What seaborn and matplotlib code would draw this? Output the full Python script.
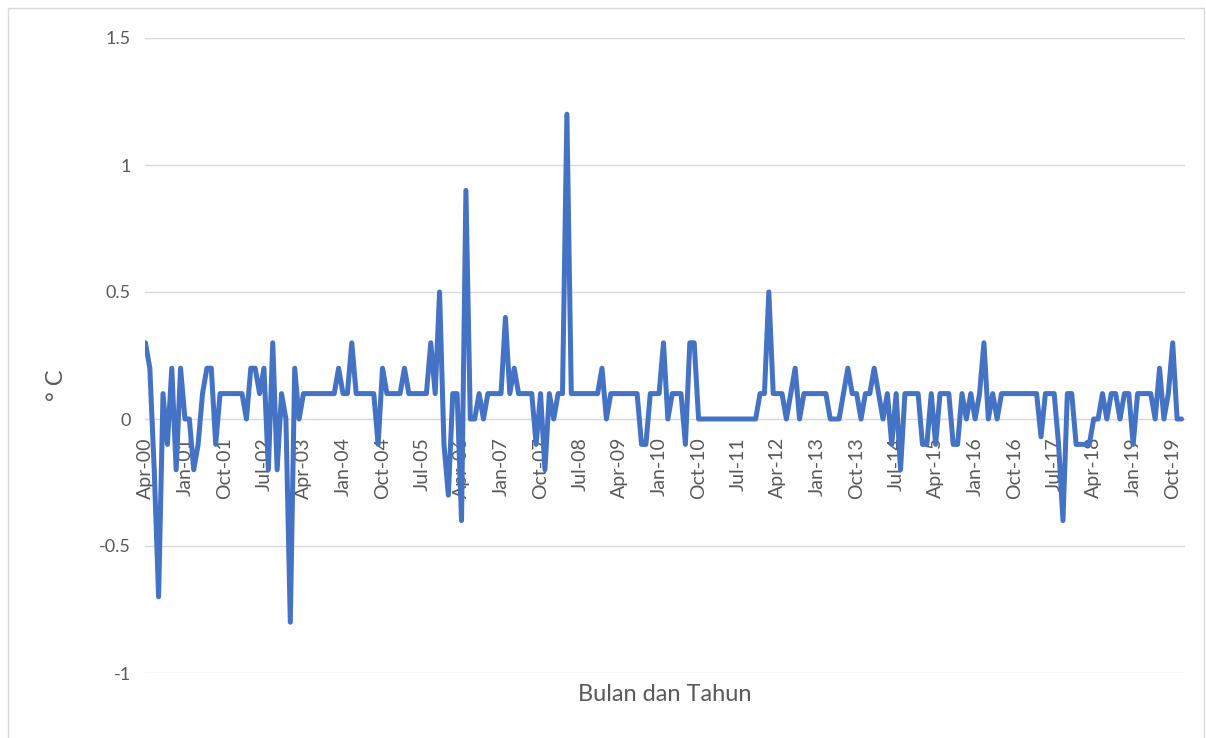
import numpy as np
import pandas as pd
import matplotlib
matplotlib.use('Agg')
import matplotlib.pyplot as plt
import seaborn as sns
from matplotlib.patches import Rectangle

# monthly values, Apr-2000 .. Dec-2019 (one row per year)
bulan = pd.date_range('2000-04-01', periods=237, freq='MS')
nilai = [
    0.3, 0.2, -0.2, -0.7, 0.1, -0.1, 0.2, -0.2, 0.2,                      # Apr-00 .. Dec-00
    0.0, 0.0, -0.2, -0.1, 0.1, 0.2, 0.2, -0.1, 0.1, 0.1, 0.1, 0.1,         # 2001
    0.1, 0.1, 0.0, 0.2, 0.2, 0.1, 0.2, -0.2, 0.3, -0.2, 0.1, 0.0,          # 2002
    -0.8, 0.2, 0.0, 0.1, 0.1, 0.1, 0.1, 0.1, 0.1, 0.1, 0.1, 0.2,           # 2003
    0.1, 0.1, 0.3, 0.1, 0.1, 0.1, 0.1, 0.1, -0.1, 0.2, 0.1, 0.1,           # 2004
    0.1, 0.1, 0.2, 0.1, 0.1, 0.1, 0.1, 0.1, 0.3, 0.1, 0.5, -0.1,           # 2005
    -0.3, 0.1, 0.1, -0.4, 0.9, 0.0, 0.0, 0.1, 0.0, 0.1, 0.1, 0.1,          # 2006
    0.1, 0.4, 0.1, 0.2, 0.1, 0.1, 0.1, 0.1, -0.1, 0.1, -0.2, 0.1,          # 2007
    0.0, 0.1, 0.1, 1.2, 0.1, 0.1, 0.1, 0.1, 0.1, 0.1, 0.1, 0.2,            # 2008
    0.0, 0.1, 0.1, 0.1, 0.1, 0.1, 0.1, 0.1, -0.1, -0.1, 0.1, 0.1,          # 2009
    0.1, 0.3, 0.0, 0.1, 0.1, 0.1, -0.1, 0.3, 0.3, 0.0, 0.0, 0.0,           # 2010
    0.0, 0.0, 0.0, 0.0, 0.0, 0.0, 0.0, 0.0, 0.0, 0.0, 0.0, 0.1,            # 2011
    0.1, 0.5, 0.1, 0.1, 0.1, 0.0, 0.1, 0.2, 0.0, 0.1, 0.1, 0.1,            # 2012
    0.1, 0.1, 0.1, 0.0, 0.0, 0.0, 0.1, 0.2, 0.1, 0.1, 0.0, 0.1,            # 2013
    0.1, 0.2, 0.1, 0.0, 0.1, -0.1, 0.1, -0.2, 0.1, 0.1, 0.1, 0.1,          # 2014
    -0.1, -0.1, 0.1, -0.1, 0.1, 0.1, 0.1, -0.1, -0.1, 0.1, 0.0, 0.1,       # 2015
    0.0, 0.1, 0.3, 0.0, 0.1, 0.0, 0.1, 0.1, 0.1, 0.1, 0.1, 0.1,            # 2016
    0.1, 0.1, 0.1, -0.07, 0.1, 0.1, 0.1, -0.1, -0.4, 0.1, 0.1, -0.1,       # 2017
    -0.1, -0.1, -0.1, 0.0, 0.0, 0.1, 0.0, 0.1, 0.1, 0.0, 0.1, 0.1,         # 2018
    -0.1, 0.1, 0.1, 0.1, 0.1, 0.0, 0.2, 0.0, 0.1, 0.3, 0.0, 0.0,           # 2019
]

df = pd.DataFrame({'idx': np.arange(len(bulan)), 'nilai': nilai})
tick_idx = np.arange(0, len(bulan), 9)
tick_lbl = [bulan[i].strftime('%b-%y') for i in tick_idx]

sns.set_style('white')
plt.rcParams['font.family'] = ['Lato', 'DejaVu Sans']

fig = plt.figure(figsize=(12.06, 7.38), dpi=100)
ax = fig.add_axes([145 / 1206, 1 - 673 / 738, 1040 / 1206, 635 / 738])

sns.lineplot(data=df, x='idx', y='nilai', ax=ax, color='#4472C4',
             linewidth=3.6, solid_capstyle='round', solid_joinstyle='round')

ax.set_xlim(-0.1, 236.8)
ax.set_ylim(-1, 1.5)
ax.set_yticks([-1, -0.5, 0, 0.5, 1, 1.5])
ax.set_yticklabels(['-1', '-0.5', '0', '0.5', '1', '1.5'])
ax.grid(axis='y', color='#D9D9D9', linewidth=1)
ax.set_axisbelow(True)

for s in ['top', 'right', 'left']:
    ax.spines[s].set_visible(False)
ax.spines['bottom'].set_position(('data', 0))
ax.spines['bottom'].set_color('#D9D9D9')
ax.spines['bottom'].set_zorder(1)

ax.set_xticks(tick_idx)
ax.set_xticklabels(tick_lbl, rotation=90)
ax.tick_params(axis='x', colors='#D9D9D9', length=5, width=1, labelcolor='#595959',
               labelsize=14, pad=8)
ax.tick_params(axis='y', length=0, labelcolor='#595959', labelsize=13, pad=10)

ax.set_xlabel('Bulan dan Tahun', fontsize=17, color='#595959')
ax.xaxis.set_label_coords(0.5, -0.018)
ax.set_ylabel('° C', fontsize=17, color='#595959')
ax.yaxis.set_label_coords(-0.075, 0.4535)

fig.patches.append(Rectangle((8 / 1206, -0.01), 1196 / 1206, 1 - 8 / 738 + 0.01,
                             transform=fig.transFigure, fill=False,
                             edgecolor='#D9D9D9', linewidth=1))

fig.savefig('out.png', dpi=100)
